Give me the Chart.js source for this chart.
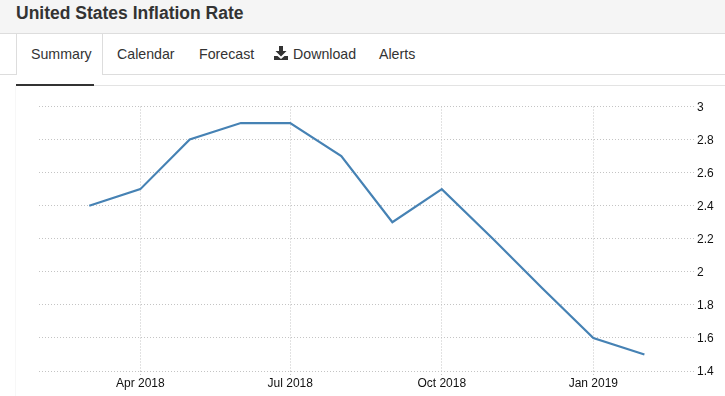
<!DOCTYPE html>
<html>
<head>
<meta charset="utf-8">
<title>United States Inflation Rate</title>
<script src="https://cdn.jsdelivr.net/npm/chart.js@4/dist/chart.umd.min.js"></script>
<style>
  html, body { margin: 0; padding: 0; background: #fff; overflow: hidden; }
  body { width: 725px; height: 396px; position: relative; font-family: "Liberation Sans", Arial, sans-serif; color: #333; }
  #head { position: absolute; left: 0; top: 0; width: 725px; height: 33px; background: #f5f5f5; border-bottom: 1px solid #ddd; }
  #head h1 { margin: 0; position: absolute; left: 16px; top: 1px; font-size: 17.5px; line-height: 24px; font-weight: bold; color: #333; }
  #tabline { position: absolute; left: 0; top: 74px; width: 725px; height: 1px; background: #ddd; }
  #active { position: absolute; left: 16px; top: 34px; width: 85px; height: 41px; background: #fff; border-left: 1px solid #ddd; border-right: 1px solid #ddd; }
  .tab { position: absolute; top: 45px; font-size: 14.2px; line-height: 18px; white-space: nowrap; }
  #rule { position: absolute; left: 94px; top: 85px; width: 631px; height: 1px; background: #e3e3e3; }
  #mark { position: absolute; left: 16px; top: 84px; width: 78px; height: 2px; background: #333; }
  #edge { position: absolute; left: 15px; top: 86px; width: 1px; height: 310px; background: #f7f7f7; }
  #icon { position: absolute; left: 274px; top: 46px; }
  #chartBox { position: absolute; left: 0; top: 86px; width: 725px; height: 310px; }
</style>
</head>
<body>
<div id="head"><h1>United States Inflation Rate</h1></div>
<div id="tabline"></div>
<div id="active"></div>
<div class="tab" style="left:31px">Summary</div>
<div class="tab" style="left:117px">Calendar</div>
<div class="tab" style="left:199px">Forecast</div>
<svg id="icon" width="14" height="14" viewBox="0 0 14 14">
  <path d="M5 0h4v5h3.500L7 10.500 1.500 5H5z M0 10h3.500L7 13l3.500-3H14v4H0z" fill="#333"/>
</svg>
<div class="tab" style="left:293px">Download</div>
<div class="tab" style="left:379px">Alerts</div>
<div id="rule"></div>
<div id="mark"></div>
<div id="edge"></div>
<div id="chartBox"><canvas id="myChart" width="725" height="310"></canvas></div>

<script>
const months = ["2018-03-01", "2018-04-01", "2018-05-01", "2018-06-01", "2018-07-01", "2018-08-01",
  "2018-09-01", "2018-10-01", "2018-11-01", "2018-12-01", "2019-01-01", "2019-02-01"];
const inflationRate = [2.4, 2.5, 2.8, 2.9, 2.9, 2.7, 2.3, 2.5, 2.2, 1.9, 1.6, 1.5];
const xTickDates = ["2018-04-01", "2018-07-01", "2018-10-01", "2019-01-01"];
const xTickLabels = ["Apr 2018", "Jul 2018", "Oct 2018", "Jan 2019"];
const yTicks = [1.4, 1.6, 1.8, 2, 2.2, 2.4, 2.6, 2.8, 3];

const DAY = 86400000;
const xTickValues = xTickDates.map((d) => Date.parse(d));
const gridDash = [1, 2];
const gridColor = "#c4c4c4";
const tickFont = { family: "'Liberation Sans', Arial, sans-serif", size: 12 };

new Chart(document.getElementById("myChart").getContext("2d"), {
  type: "line",
  data: {
    datasets: [
      {
        label: "Inflation Rate",
        data: months.map((m, i) => ({ x: Date.parse(m), y: inflationRate[i] })),
        borderColor: "#4682b4",
        borderWidth: 2.2,
        pointRadius: 0,
        tension: 0,
      },
    ],
  },
  options: {
    responsive: false,
    animation: false,
    layout: { padding: { left: 39, top: 20.5, right: 0, bottom: 0 } },
    plugins: { legend: { display: false }, tooltip: { enabled: false } },
    scales: {
      x: {
        type: "linear",
        min: Date.parse("2018-03-01") - 30.5 * DAY,
        max: Date.parse("2019-02-01") + 30.1 * DAY,
        afterBuildTicks: (axis) => {
          axis.ticks = xTickValues.map((value) => ({ value }));
        },
        afterFit: (axis) => {
          axis.height = 25;
        },
        border: { display: false, dash: gridDash },
        grid: { color: gridColor, tickColor: gridColor, tickBorderDash: gridDash, tickLength: 4 },
        ticks: {
          autoSkip: false,
          maxRotation: 0,
          padding: 1,
          color: "#111",
          font: tickFont,
          callback: (value) => xTickLabels[xTickValues.indexOf(value)],
        },
      },
      y: {
        position: "right",
        min: 1.4,
        max: 3,
        afterBuildTicks: (axis) => {
          axis.ticks = yTicks.map((value) => ({ value }));
        },
        afterFit: (axis) => {
          axis.width = 31;
        },
        border: { display: false, dash: gridDash },
        grid: { color: gridColor, drawTicks: false },
        ticks: {
          padding: 3,
          labelOffset: 1,
          color: "#111",
          font: tickFont,
          callback: (value) => String(value),
        },
      },
    },
  },
});
</script>
</body>
</html>
